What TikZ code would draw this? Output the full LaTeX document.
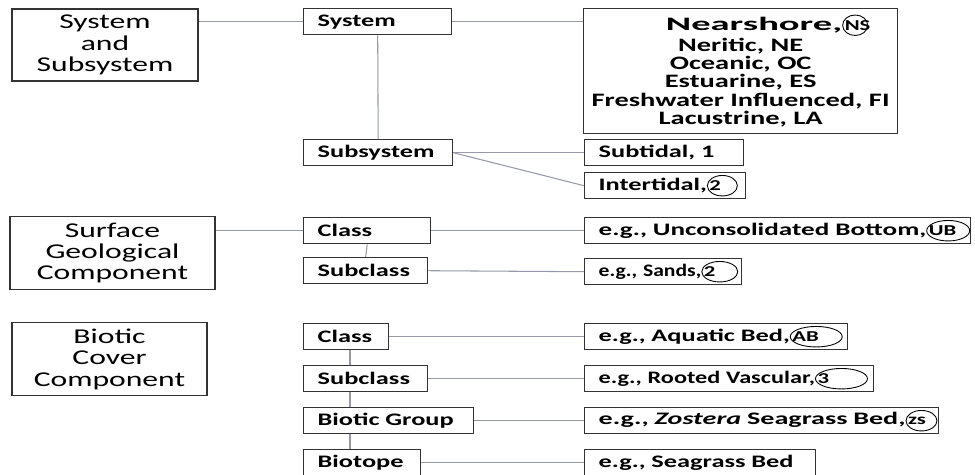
\documentclass[tikz,border=0pt]{standalone}
\usepackage{fontspec}
\setmainfont{Carlito}[FakeStretch=1.5]
\usetikzlibrary{shapes.geometric}

\definecolor{linkgray}{RGB}{150,154,166}
\newcommand{\tierfont}{\fontsize{12}{12.2}\selectfont}
\newcommand{\valfont}{\fontsize{10}{10.5}\selectfont\bfseries}
\newcommand{\listfont}{\fontsize{10.8}{10.5}\selectfont\bfseries}
\newcommand{\hfit}[2]{{\addfontfeature{FakeStretch=#1}#2}}
\tikzset{
	ringtext/.style={inner sep=0pt, outer sep=0pt, minimum width=0pt, minimum height=0pt, text width={}, align=left, anchor=base west, font=\fontsize{8.6}{9}\selectfont\bfseries},
	ringline/.style={draw=black, line width=0.5pt}
}
\newcommand{\ringed}[2]{\tikz[baseline=(rg.base)]{%
		\node[ringtext] (rg) {#2};
		\draw[ringline] ([xshift=#1/2-1.2pt]rg.west) ellipse [x radius=#1/2, y radius=0.205cm];}}

\begin{document}
\frenchspacing
\begin{tikzpicture}[x=0.02cm, y=-0.02cm,
	tier/.style={draw=black!80, line width=0.8pt, minimum width=#1, minimum height=1.42cm, align=center, font=\tierfont},
	cell/.style={draw=black!80, line width=0.8pt, anchor=north west, minimum height=0.52cm, inner xsep=0.28cm, inner ysep=0pt, text width=#1, align=left, font=\valfont,
		execute at begin node=\hbox\bgroup, execute at end node=\egroup},
	link/.style={draw=linkgray, line width=0.6pt}
	]
	\useasboundingbox (0,0) rectangle (975,474);

	\node[tier=3.72cm] (ss) at (105,45) {System\\and\\Subsystem};
	\node[tier=4.1cm] (sgc) at (112.5,253) {Surface\\Geological\\Component};
	\node[tier=3.9cm] (bcc) at (109.5,359) {Biotic\\Cover\\Component};

	\node[cell=2.40cm] (sys) at (303,8) {System};
	\node[cell=2.42cm] (subsys) at (303,139) {Subsystem};
	\node[cell=1.98cm] (sgclass) at (303,217) {Class};
	\node[cell=1.92cm] (sgsub) at (303,257) {Subclass};
	\node[cell=1.14cm] (bclass) at (303,323) {Class};
	\node[cell=1.92cm] (bsub) at (303,365) {Subclass};
	\node[cell=2.84cm] (bgroup) at (303,407) {Biotic Group};
	\node[cell=1.78cm] (btope) at (303,449) {Biotope};

	\node[draw=black!80, line width=0.8pt, anchor=north west, minimum width=6.28cm, minimum height=2.4cm, align=center, font=\listfont] (sysval) at (583,8)
	{\hspace*{1.1cm}\hfit{2.03}{Nearshore,}\ringed{0.5cm}{NS}\\Neritic, NE\\Oceanic, OC\\Estuarine, ES\\Freshwater Influenced, FI\\Lacustrine, LA};
	\node[cell=2.62cm] (subtidal) at (584,139) {Subtidal, 1};
	\node[cell=2.66cm] (intertidal) at (584,172) {Intertidal,\ringed{0.6cm}{2}};
	\node[cell=7.16cm] (ub) at (584,217) {\hfit{1.545}{e.g., Unconsolidated Bottom,}\ringed{0.86cm}{UB}};
	\node[cell=2.58cm] (sands) at (584,258) {\hfit{1.23}{e.g., Sands,}\ringed{0.72cm}{2}};
	\node[cell=4.70cm] (ab) at (584,323) {e.g., Aquatic Bed,\ringed{1.04cm}{AB}};
	\node[cell=5.22cm] (rv) at (584,365) {\hfit{1.38}{e.g., Rooted Vascular,}\ringed{1.04cm}{3}};
	\node[cell=6.52cm] (zs) at (584,407) {\hfit{1.6}{e.g., \textit{Zostera} Seagrass Bed,}\ringed{0.62cm}{zs}};
	\node[cell=4.06cm] (sb) at (584,449) {e.g., Seagrass Bed};

	\coordinate (spine) at (350,0);

	\draw[link] (sys.west) -- (sys.west -| ss.east);
	\draw[link] (sys.east) -- (sys.east -| sysval.west);
	\draw[link] (sys.south) -- (subsys.north);
	\draw[link] (sgclass.west) -- (sgclass.west -| sgc.east);
	\draw[link] (sgclass.south) -- (sgsub.north);
	\foreach \a/\b in {bclass/bsub, bsub/bgroup, bgroup/btope}
	\draw[link] (\a.south -| spine) -- (\b.north -| spine);
	\foreach \a/\b in {subsys/subtidal, subsys/intertidal, sgclass/ub, sgsub/sands, bclass/ab, bsub/rv, bgroup/zs, btope/sb}
	\draw[link] (\a.east) -- (\b.west);
\end{tikzpicture}
\end{document}
